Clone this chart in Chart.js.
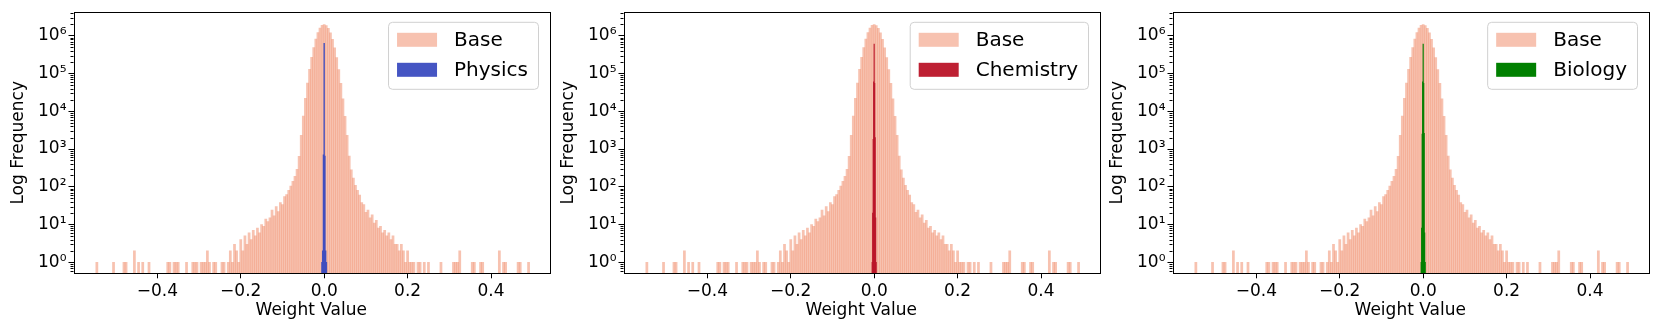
<!DOCTYPE html>
<html>
<head>
<meta charset="utf-8">
<script src="https://cdn.jsdelivr.net/npm/chart.js@4"></script>
<style>
  html, body { margin: 0; padding: 0; background: #fff; }
  body { width: 1661px; height: 332px; position: relative; overflow: hidden; }
  .panel { position: absolute; top: 0; width: 555px; height: 332px; }
</style>
</head>
<body>
<div class="panel" style="left:0px"><canvas id="chart-physics"></canvas></div>
<div class="panel" style="left:550px"><canvas id="chart-chemistry"></canvas></div>
<div class="panel" style="left:1099px"><canvas id="chart-biology"></canvas></div>
<script>
// base histogram, bins of 0.005 centred from -0.25 to 0.25
const binStart = -0.25;
const binWidth = 0.005;
const baseCounts = [
  null, 1, 1, null, 1, 2, 1, 3, 2, 1,
  4, 2, 5, 3, 6, 4, 7, 5, 8, 6,
  10, 9, 14, 12, 15, 24, 17, 30, 22, 38,
  34, 55, 62, 80, 105, 140, 190, 290, 640, 2300,
  7500, 22000, 56000, 130000, 270000, 490000, 820000, 1210000, 1600000, 1890000,
  2000000,
  1880000, 1590000, 1200000, 810000, 480000, 265000, 128000, 55000, 21500, 7400,
  2300, 650, 280, 170, 110, 80, 60, 38, 34, 21,
  24, 15, 18, 11, 13, 8, 9, 6, 7, 5,
  6, 4, 5, 3, 3, 2, 3, 2, 1, 2,
  1, 1, 1, null, 1, 1, null, 1, null, 1
];
// lone weights far out in the tails
const tailX = [-0.545, -0.505, -0.480, -0.475, -0.455, -0.445, -0.435, -0.420, -0.375, -0.370,
  -0.360, -0.355, -0.350, -0.330, -0.315, -0.310, -0.305, -0.295, -0.290, -0.285,
  -0.280, -0.275, -0.265, -0.260,
  0.280, 0.310, 0.315, 0.320, 0.325, 0.355, 0.360, 0.375, 0.380, 0.420,
  0.430, 0.435, 0.465, 0.470, 0.490];
const tailCounts = [1, 1, 1, 1, 2, 1, 1, 1, 1, 1,
  1, 1, 1, 1, 1, 1, 1, 1, 1, 1,
  2, 1, 1, 1,
  1, 1, 1, 1, 2, 1, 1, 1, 1, 2,
  1, 1, 1, 1, 1];

// fine-tuned weights sit in a few very narrow bins round zero
const physicsX = [-0.0054, -0.0036, -0.0018, 0, 0.0018, 0.0036, 0.0054];
const physicsCounts = [1, 2, 700, 630000, 650, 2, 1];
const chemistryX = [-0.0048, -0.0036, -0.0024, -0.0012, 0, 0.0012, 0.0024, 0.0036, 0.0048];
const chemistryCounts = [1, 20, 1800, 60000, 600000, 55000, 2000, 15, 1];
const biologyX = [-0.0048, -0.0036, -0.0024, -0.0012, 0, 0.0012, 0.0024, 0.0036, 0.0048];
const biologyCounts = [1, 8, 2500, 60000, 600000, 55000, 2600, 6, 1];

const xTicks = [-0.4, -0.2, 0, 0.2, 0.4];
const yTickExps = [0, 1, 2, 3, 4, 5, 6];
const xMin = -0.601, xMax = 0.539;
const yMin = 0.51, yMax = 4.2e6;

Chart.defaults.font.family = '"DejaVu Sans", sans-serif';
Chart.defaults.color = '#000';

const sup = {'0':'⁰','1':'¹','2':'²','3':'³','4':'⁴','5':'⁵','6':'⁶'};

// major ticks at powers of ten, minor ones at 2..9
const yTickList = [];
for (let e = -1; e <= 6; e++) {
  for (let m = 1; m <= 9; m++) {
    const v = m * Math.pow(10, e);
    if (v >= yMin && v <= yMax) yTickList.push({value: v, major: m === 1});
  }
}

function points(xs, ys) {
  return xs.map((x, i) => ({x: x, y: ys[i]})).filter(p => p.y !== null);
}

const baseX = baseCounts.map((c, i) => +(binStart + i * binWidth).toFixed(3));
const basePoints = points(baseX, baseCounts).concat(points(tailX, tailCounts));

// spines and minor log ticks
const frameTicks = {
  id: 'frameTicks',
  afterDraw(chart) {
    const {ctx, chartArea: a, scales: {y}} = chart;
    ctx.save();
    ctx.strokeStyle = '#000';
    ctx.lineWidth = 1;
    y.ticks.forEach(t => {
      if (t.major) return;
      const py = Math.round(y.getPixelForValue(t.value)) + 0.5;
      ctx.beginPath();
      ctx.moveTo(a.left - 3, py);
      ctx.lineTo(a.left, py);
      ctx.stroke();
    });
    ctx.strokeRect(Math.round(a.left) + 0.5, Math.round(a.top) + 0.5,
      Math.round(a.right - a.left), Math.round(a.bottom - a.top));
    ctx.restore();
  }
};

// matplotlib style legend box in the top right corner
const boxLegend = {
  id: 'boxLegend',
  afterDraw(chart) {
    const {ctx, chartArea: a} = chart;
    const sets = chart.data.datasets;
    ctx.save();
    ctx.font = '20px "DejaVu Sans", sans-serif';
    const textW = Math.max(...sets.map(d => ctx.measureText(d.label).width));
    const w = 8 + 40 + 16 + textW + 12;
    const h = 67;
    const right = a.right - 10.5;
    const left = right - w;
    const top = a.top + 10;
    ctx.beginPath();
    ctx.roundRect(left, top, w, h, 4);
    ctx.fillStyle = 'rgba(255,255,255,0.8)';
    ctx.fill();
    ctx.strokeStyle = '#d0d0d0';
    ctx.lineWidth = 1;
    ctx.stroke();
    ctx.textBaseline = 'middle';
    ctx.textAlign = 'left';
    sets.forEach((d, i) => {
      const cy = top + 17.5 + i * 30;
      ctx.fillStyle = d.backgroundColor;
      ctx.fillRect(left + 8.5, cy - 7, 40, 14);
      ctx.fillStyle = '#000';
      ctx.fillText(d.label, left + 8.5 + 40 + 17, cy + 1);
    });
    ctx.restore();
  }
};

function makeChart(id, label, xs, counts, color) {
  return new Chart(document.getElementById(id), {
    type: 'bar',
    data: {
      datasets: [{
        label: 'Base',
        data: basePoints,
        backgroundColor: 'rgba(240,140,105,0.53)',
        borderWidth: 0,
        barPercentage: 1,
        categoryPercentage: 1,
        grouped: false,
        xAxisID: 'x',
        order: 2
      }, {
        label: label,
        data: points(xs, counts),
        backgroundColor: color,
        borderWidth: 0,
        barPercentage: 1,
        categoryPercentage: 1,
        grouped: false,
        xAxisID: 'x2',
        order: 1
      }]
    },
    options: {
      responsive: true,
      maintainAspectRatio: false,
      animation: false,
      layout: { padding: {left: 0, right: 6, top: 12.3, bottom: 0} },
      plugins: { legend: {display: false}, tooltip: {enabled: false} },
      scales: {
        x: {
          type: 'linear', min: xMin, max: xMax, offset: false,
          afterBuildTicks: s => { s.ticks = xTicks.map(v => ({value: v})); },
          afterFit: s => { s.height = 58.7; },
          ticks: {
            autoSkip: false, maxRotation: 0, padding: 3, font: {size: 17},
            callback: v => v === 0 ? '0.0' : v.toFixed(1).replace('-', '\u2212')
          },
          grid: { offset: false, drawOnChartArea: false, tickLength: 5, tickColor: '#000', tickWidth: 1 },
          border: { display: false },
          title: { display: true, text: 'Weight Value', font: {size: 17}, padding: {top: 0, bottom: 11} }
        },
        x2: { type: 'linear', min: xMin, max: xMax, offset: false, display: false, grid: {offset: false} },
        y: {
          type: 'logarithmic', min: yMin, max: yMax, beginAtZero: false,
          afterBuildTicks: s => { s.ticks = yTickList.map(t => ({value: t.value, major: t.major})); },
          afterFit: s => { s.width = 73.5; },
          ticks: {
            autoSkip: false, padding: 2, font: {size: 17},
            callback: (v, i, ticks) => {
              if (!ticks[i].major) return '';
              const e = Math.round(Math.log10(v));
              return yTickExps.includes(e) ? '10' + sup[String(e)] : '';
            }
          },
          grid: {
            drawOnChartArea: false, tickLength: 5, tickWidth: 1,
            tickColor: c => (c.tick && c.tick.major) ? '#000' : 'rgba(0,0,0,0)'
          },
          border: { display: false },
          title: { display: true, text: 'Log Frequency', font: {size: 17}, padding: {top: 8, bottom: 0} }
        }
      }
    },
    plugins: [frameTicks, boxLegend]
  });
}

makeChart('chart-physics', 'Physics', physicsX, physicsCounts, 'rgba(59,76,192,0.95)');
makeChart('chart-chemistry', 'Chemistry', chemistryX, chemistryCounts, 'rgba(186,20,40,0.95)');
makeChart('chart-biology', 'Biology', biologyX, biologyCounts, 'rgb(0,128,0)');
</script>
</body>
</html>
